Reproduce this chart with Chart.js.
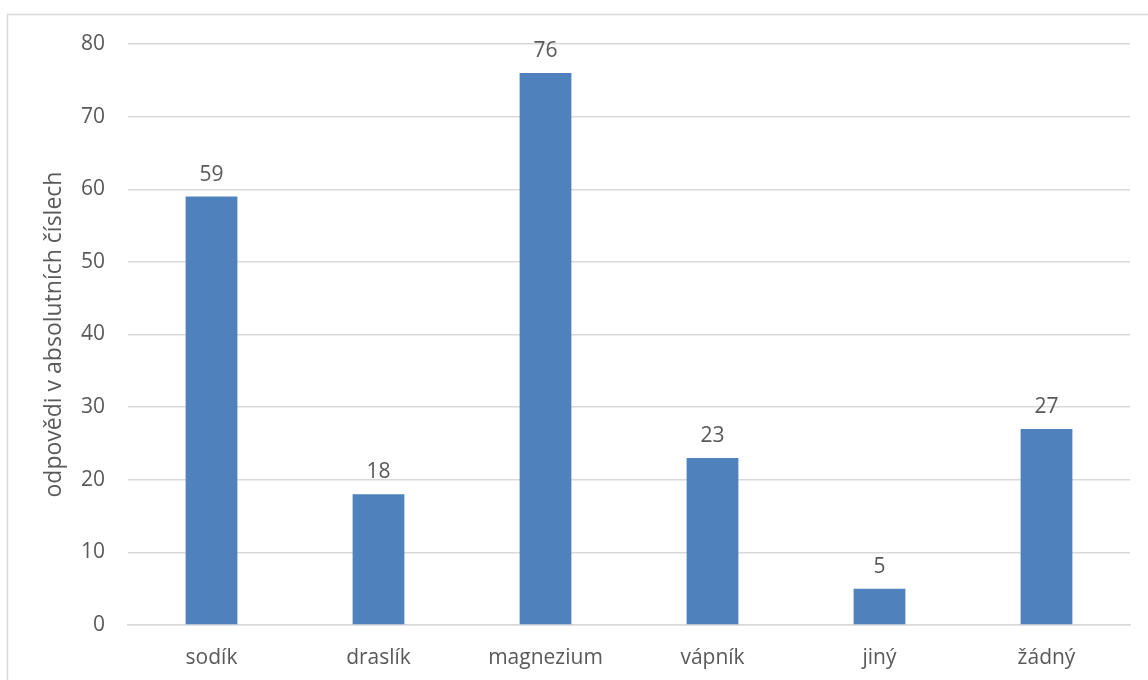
<!DOCTYPE html>
<html>
<head>
<meta charset="utf-8">
<script src="https://cdn.jsdelivr.net/npm/chart.js@4/dist/chart.umd.min.js"></script>
<style>
  html, body { margin: 0; padding: 0; background: #ffffff; }
  #wrap { width: 1148px; height: 680px; }
</style>
</head>
<body>
<div id="wrap"><canvas id="c" width="1148" height="680"></canvas></div>
<script>
// Answers: which mineral, count of respondents
const categories = ['sodík', 'draslík', 'magnezium', 'vápník', 'jiný', 'žádný'];
const counts = [59, 18, 76, 23, 5, 27];
const yTicks = [0, 10, 20, 30, 40, 50, 60, 70, 80];
const yTitle = 'odpovědi v absolutních číslech';

const FONT = '"Open Sans", "Liberation Sans", sans-serif';
const TEXT = '#595959';
const GRID = '#d9d9d9';
const BAR = '#4f81bd';

// Thin frame around the whole chart, plus value labels above the bars
const decor = {
  id: 'decor',
  beforeDraw(chart) {
    const ctx = chart.ctx;
    ctx.save();
    ctx.strokeStyle = GRID;
    ctx.lineWidth = 1.5;
    ctx.strokeRect(7.5, 14.5, 1160, 700);
    ctx.restore();
  },
  afterDatasetsDraw(chart) {
    const ctx = chart.ctx;
    const meta = chart.getDatasetMeta(0);
    ctx.save();
    ctx.font = '21px ' + FONT;
    ctx.fillStyle = TEXT;
    ctx.textAlign = 'center';
    ctx.textBaseline = 'alphabetic';
    meta.data.forEach((bar, i) => {
      ctx.fillText(String(counts[i]), bar.x, bar.y - 16);
    });
    ctx.restore();
  }
};

new Chart(document.getElementById('c'), {
  type: 'bar',
  data: {
    labels: categories,
    datasets: [{
      data: counts,
      backgroundColor: BAR,
      borderWidth: 0,
      categoryPercentage: 1,
      barPercentage: 0.31
    }]
  },
  options: {
    responsive: false,
    animation: false,
    devicePixelRatio: 1,
    layout: { padding: { left: 0, right: 18, top: 44, bottom: 0 } },
    plugins: { legend: { display: false }, tooltip: { enabled: false } },
    scales: {
      x: {
        grid: { display: false, drawTicks: false },
        border: { display: true, color: GRID, width: 1.5 },
        ticks: { color: TEXT, font: { family: FONT, size: 21 }, padding: 20, maxRotation: 0 },
        afterFit(scale) { scale.height = 55; }
      },
      y: {
        min: 0,
        max: 80,
        afterBuildTicks(scale) { scale.ticks = yTicks.map(v => ({ value: v })); },
        grid: { color: GRID, lineWidth: 1.5, drawTicks: false },
        border: { display: false },
        ticks: { color: TEXT, font: { family: FONT, size: 21 }, padding: 23 },
        title: {
          display: true,
          text: yTitle,
          color: TEXT,
          font: { family: FONT, size: 23 },
          padding: { top: 41, bottom: 0 }
        },
        afterFit(scale) { scale.width = 128; }
      }
    }
  },
  plugins: [decor]
});
</script>
</body>
</html>
